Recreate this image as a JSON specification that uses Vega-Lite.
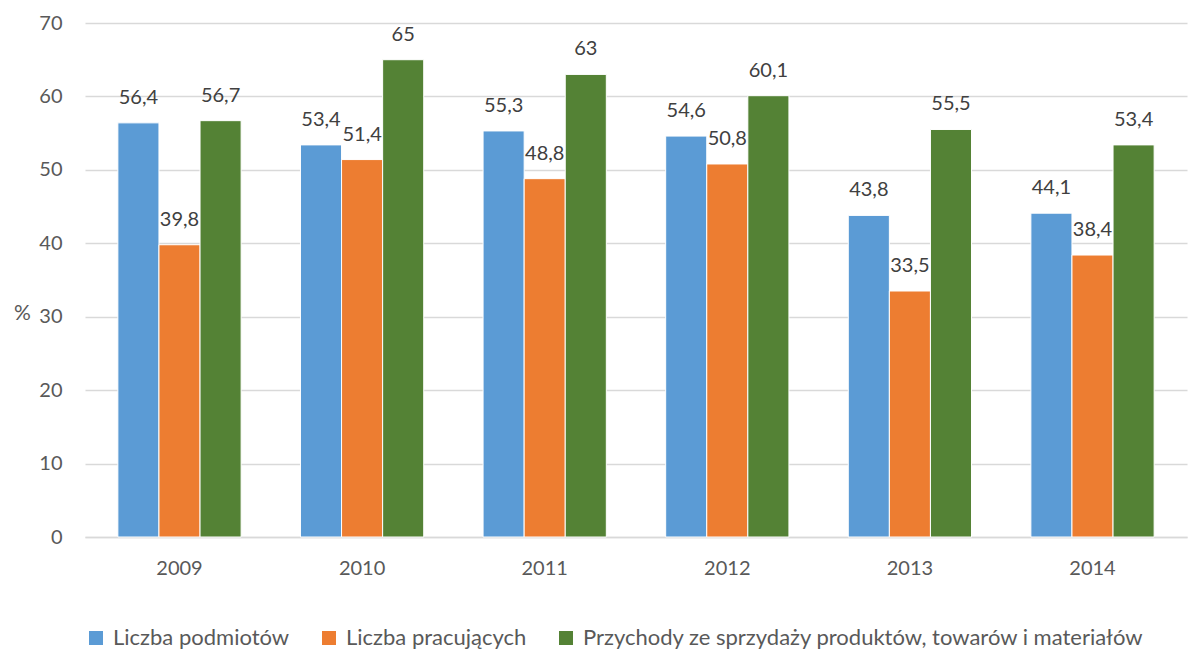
{
  "$schema": "https://vega.github.io/schema/vega-lite/v6.json",
  "autosize": "none",
  "width": 1102,
  "height": 514,
  "padding": {"left": 85, "top": 23, "right": 3, "bottom": 128},
  "background": "white",
  "config": {
    "font": "Lato",
    "view": {"stroke": null},
    "locale": {"number": {"decimal": ",", "thousands": " ", "grouping": [3], "currency": ["", " zł"]}}
  },
  "data": {
    "values": [
      {"rok": "2009", "seria": "Liczba podmiotów", "o": 0, "v": 56.4},
      {"rok": "2009", "seria": "Liczba pracujących", "o": 1, "v": 39.8},
      {"rok": "2009", "seria": "Przychody ze sprzydaży produktów, towarów i materiałów", "o": 2, "v": 56.7},
      {"rok": "2010", "seria": "Liczba podmiotów", "o": 0, "v": 53.4},
      {"rok": "2010", "seria": "Liczba pracujących", "o": 1, "v": 51.4},
      {"rok": "2010", "seria": "Przychody ze sprzydaży produktów, towarów i materiałów", "o": 2, "v": 65},
      {"rok": "2011", "seria": "Liczba podmiotów", "o": 0, "v": 55.3},
      {"rok": "2011", "seria": "Liczba pracujących", "o": 1, "v": 48.8},
      {"rok": "2011", "seria": "Przychody ze sprzydaży produktów, towarów i materiałów", "o": 2, "v": 63},
      {"rok": "2012", "seria": "Liczba podmiotów", "o": 0, "v": 54.6},
      {"rok": "2012", "seria": "Liczba pracujących", "o": 1, "v": 50.8},
      {"rok": "2012", "seria": "Przychody ze sprzydaży produktów, towarów i materiałów", "o": 2, "v": 60.1},
      {"rok": "2013", "seria": "Liczba podmiotów", "o": 0, "v": 43.8},
      {"rok": "2013", "seria": "Liczba pracujących", "o": 1, "v": 33.5},
      {"rok": "2013", "seria": "Przychody ze sprzydaży produktów, towarów i materiałów", "o": 2, "v": 55.5},
      {"rok": "2014", "seria": "Liczba podmiotów", "o": 0, "v": 44.1},
      {"rok": "2014", "seria": "Liczba pracujących", "o": 1, "v": 38.4},
      {"rok": "2014", "seria": "Przychody ze sprzydaży produktów, towarów i materiałów", "o": 2, "v": 53.4}
    ]
  },
  "encoding": {
    "x": {
      "field": "rok", "type": "nominal",
      "scale": {"paddingInner": 0.325, "paddingOuter": 0.18},
      "axis": {
        "title": null, "labelAngle": 0, "labelFontSize": 20, "labelColor": "#595959",
        "labelPadding": 21, "ticks": false, "domainColor": "#D9D9D9", "domainWidth": 1.5
      }
    },
    "xOffset": {"field": "seria", "type": "nominal", "sort": {"field": "o"}, "scale": {"paddingInner": 0, "paddingOuter": 0}},
    "y": {
      "field": "v", "type": "quantitative",
      "scale": {"domain": [0, 70], "nice": false},
      "axis": {
        "values": [0, 10, 20, 30, 40, 50, 60, 70],
        "title": "%", "titleAngle": 0, "titleFontSize": 21, "titleFontWeight": "normal", "titleColor": "#595959",
        "titleX": -63, "titleY": 290, "titleAlign": "center", "titleBaseline": "middle",
        "labelFontSize": 20, "labelColor": "#595959", "labelPadding": 23,
        "ticks": false, "domain": false, "gridColor": "#D9D9D9", "gridWidth": 1.5
      }
    }
  },
  "layer": [
    {
      "mark": {"type": "bar", "stroke": "white", "strokeWidth": 1},
      "encoding": {
        "color": {
          "field": "seria", "type": "nominal", "sort": {"field": "o"},
          "scale": {
            "domain": ["Liczba podmiotów", "Liczba pracujących", "Przychody ze sprzydaży produktów, towarów i materiałów"],
            "range": ["#5B9BD5", "#ED7D31", "#548235"]
          },
          "legend": {
            "title": null, "orient": "none", "direction": "horizontal",
            "legendX": 0, "legendY": 604,
            "labelFontSize": 22, "labelColor": "#595959", "labelLimit": 900,
            "symbolType": "square", "symbolSize": 196, "symbolStrokeWidth": 0,
            "columnPadding": 28, "labelOffset": 6
          }
        }
      }
    },
    {
      "mark": {"type": "text", "baseline": "bottom", "dy": -15, "fontSize": 20, "color": "#404040"},
      "encoding": {
        "text": {"field": "v", "type": "quantitative", "format": ".3~r"}
      }
    }
  ]
}
